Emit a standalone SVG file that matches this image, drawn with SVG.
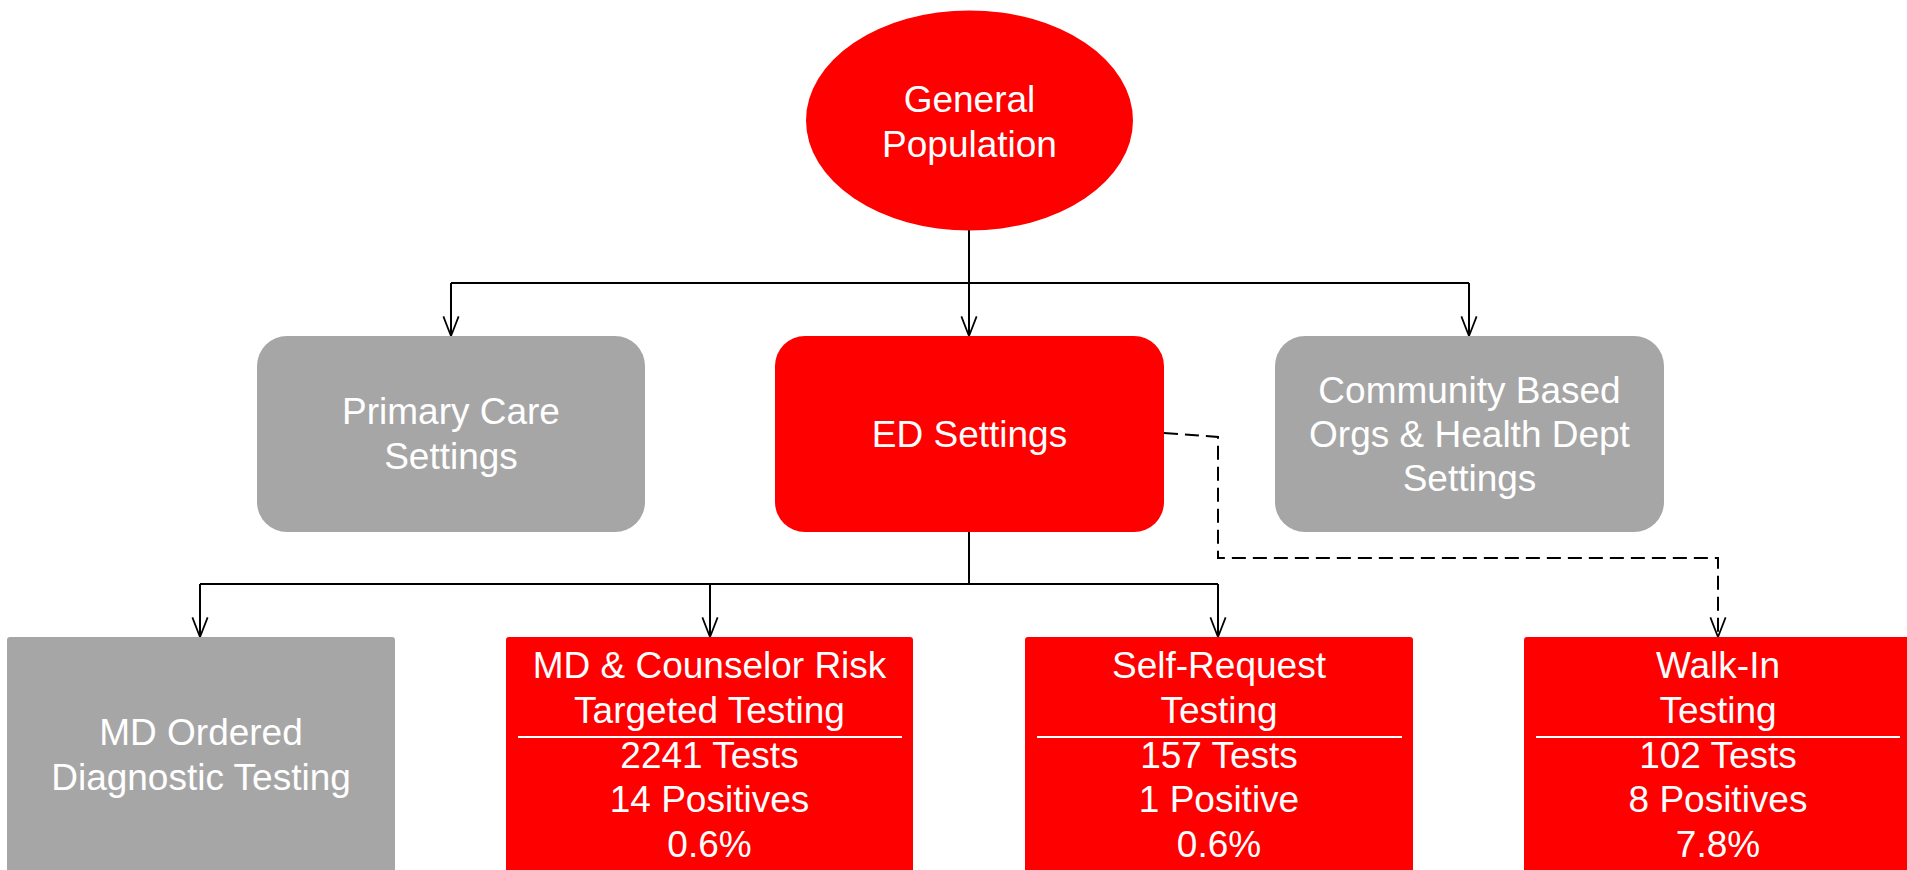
<svg xmlns="http://www.w3.org/2000/svg" width="1907" height="870" viewBox="0 0 1907 870">
<defs>
<style>
.red{fill:#FF0000}
.gray{fill:#A6A6A6}
.t{font-family:"Liberation Sans",Arial,sans-serif;font-size:37px;fill:#FFFFFF;text-anchor:middle}
.conn{fill:none;stroke:#000000;stroke-width:2}
.dash{fill:none;stroke:#000000;stroke-width:2;stroke-dasharray:14 7}
.sep{stroke:#FFFFFF;stroke-width:2}
</style>
<marker id="arr" markerUnits="userSpaceOnUse" markerWidth="24" markerHeight="24" viewBox="-20 -10 22 20" refX="0" refY="0" orient="auto">
<path d="M-18,-7 L0,0 L-18,7" fill="none" stroke="#000000" stroke-width="1.6"/>
</marker>
</defs>
<rect width="1907" height="870" fill="#FFFFFF"/>
<g id="connectors">
<path class="conn" d="M969,230 L969,283"/>
<path class="conn" d="M451,283 L1469,283"/>
<path class="conn" d="M451,283 L451,336" marker-end="url(#arr)"/>
<path class="conn" d="M969,283 L969,336" marker-end="url(#arr)"/>
<path class="conn" d="M1469,283 L1469,336" marker-end="url(#arr)"/>
<path class="conn" d="M969,532 L969,584"/>
<path class="conn" d="M200,584 L1218,584"/>
<path class="conn" d="M200,584 L200,637" marker-end="url(#arr)"/>
<path class="conn" d="M710,584 L710,637" marker-end="url(#arr)"/>
<path class="conn" d="M1218,584 L1218,637" marker-end="url(#arr)"/>
<path class="dash" d="M1164,433 L1218,437 L1218,558 L1718,558 L1718,637" marker-end="url(#arr)"/>
</g>
<g id="general-population">
<ellipse class="red" cx="969.5" cy="120.5" rx="163.5" ry="110"/>
<text class="t" x="969.5" y="112">General</text>
<text class="t" x="969.5" y="157">Population</text>
</g>
<g id="primary-care">
<rect class="gray" x="257" y="336" width="388" height="196" rx="30" ry="30"/>
<text class="t" x="451" y="424">Primary Care</text>
<text class="t" x="451" y="469">Settings</text>
</g>
<g id="ed-settings">
<rect class="red" x="775" y="336" width="389" height="196" rx="30" ry="30"/>
<text class="t" x="969.5" y="447">ED Settings</text>
</g>
<g id="community">
<rect class="gray" x="1275" y="336" width="389" height="196" rx="30" ry="30"/>
<text class="t" x="1469.5" y="403">Community Based</text>
<text class="t" x="1469.5" y="447">Orgs &amp; Health Dept</text>
<text class="t" x="1469.5" y="491">Settings</text>
</g>
<g id="md-ordered">
<rect class="gray" x="7" y="637" width="388" height="250" rx="3" ry="3"/>
<text class="t" x="201" y="745">MD Ordered</text>
<text class="t" x="201" y="790">Diagnostic Testing</text>
</g>
<g id="md-counselor">
<rect class="red" x="506" y="637" width="407" height="250" rx="3" ry="3"/>
<text class="t" x="709.5" y="678">MD &amp; Counselor Risk</text>
<text class="t" x="709.5" y="723">Targeted Testing</text>
<line class="sep" x1="518" y1="737" x2="902" y2="737"/>
<text class="t" x="709.5" y="768">2241 Tests</text>
<text class="t" x="709.5" y="812">14 Positives</text>
<text class="t" x="709.5" y="857">0.6%</text>
</g>
<g id="self-request">
<rect class="red" x="1025" y="637" width="388" height="250" rx="3" ry="3"/>
<text class="t" x="1219" y="678">Self-Request</text>
<text class="t" x="1219" y="723">Testing</text>
<line class="sep" x1="1037" y1="737" x2="1402" y2="737"/>
<text class="t" x="1219" y="768">157 Tests</text>
<text class="t" x="1219" y="812">1 Positive</text>
<text class="t" x="1219" y="857">0.6%</text>
</g>
<g id="walk-in">
<rect class="red" x="1524" y="637" width="388" height="250" rx="3" ry="3"/>
<text class="t" x="1718" y="678">Walk-In</text>
<text class="t" x="1718" y="723">Testing</text>
<line class="sep" x1="1536" y1="737" x2="1900" y2="737"/>
<text class="t" x="1718" y="768">102 Tests</text>
<text class="t" x="1718" y="812">8 Positives</text>
<text class="t" x="1718" y="857">7.8%</text>
</g>
</svg>
